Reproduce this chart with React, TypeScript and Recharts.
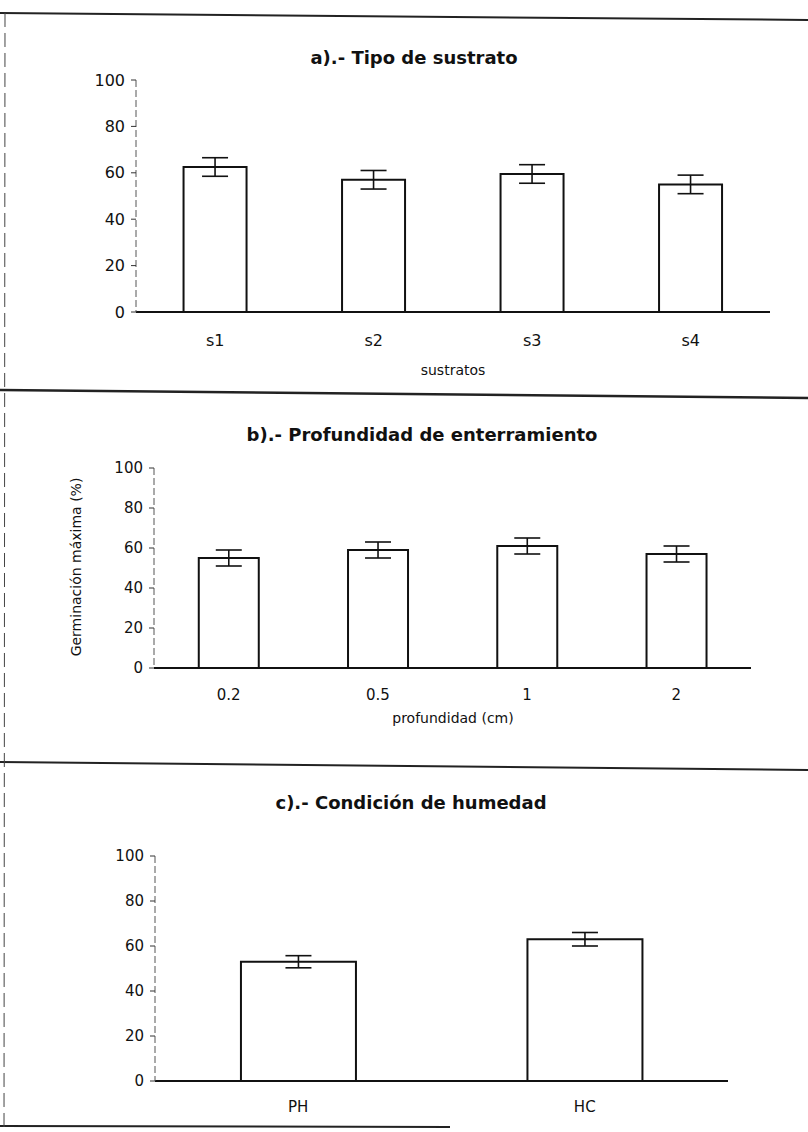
import React from 'react';
import { BarChart, Bar, XAxis, YAxis, ErrorBar } from 'recharts';

const yTicks = [0, 20, 40, 60, 80, 100];

const sustratos = ['s1', 's2', 's3', 's4'];
const germSustrato = [62.5, 57, 59.5, 55];
const errSustrato = [4, 4, 4, 4];

const profundidades = ['0.2', '0.5', '1', '2'];
const germProfundidad = [55, 59, 61, 57];
const errProfundidad = [4, 4, 4, 4];

const humedad = ['PH', 'HC'];
const germHumedad = [53, 63];
const errHumedad = [2.7, 3];

const FONT = '"DejaVu Sans", "Liberation Sans", Arial, sans-serif';
const INK = '#111';

function toRows(cats: string[], vals: number[], errs: number[]) {
  return cats.map((c, i) => ({ cat: c, value: vals[i], err: errs[i] }));
}

type PanelProps = {
  rows: { cat: string; value: number; err: number }[];
  top: number;
  height: number;
  margin: { top: number; right: number; left: number; bottom: number };
  tickFont: number;
  xTickMargin: number;
};

function Panel({ rows, top, height, margin, tickFont, xTickMargin }: PanelProps) {
  return (
    <div style={{ position: 'absolute', left: 0, top, width: 808, height }}>
      <BarChart width={808} height={height} data={rows} margin={margin} barCategoryGap="30%">
        <XAxis
          dataKey="cat"
          height={40}
          tickLine={false}
          tickSize={6}
          tickMargin={xTickMargin}
          axisLine={{ stroke: INK, strokeWidth: 1.8 }}
          tick={{ fontSize: tickFont, fill: INK, fontFamily: FONT }}
        />
        <YAxis
          width={60}
          domain={[0, 100]}
          ticks={yTicks}
          interval={0}
          tickSize={5}
          tickMargin={6}
          axisLine={{ stroke: '#555', strokeWidth: 1, strokeDasharray: '7 3' }}
          tickLine={{ stroke: '#333', strokeWidth: 1 }}
          tick={{ fontSize: tickFont, fill: INK, fontFamily: FONT }}
        />
        <Bar dataKey="value" fill="#fff" stroke={INK} strokeWidth={2} isAnimationActive={false}>
          <ErrorBar dataKey="err" width={13} stroke={INK} strokeWidth={1.6} direction="y" isAnimationActive={false} />
        </Bar>
      </BarChart>
    </div>
  );
}

function Label({ x, y, size, bold, rotate, children }: {
  x: number; y: number; size: number; bold?: boolean; rotate?: boolean; children: React.ReactNode;
}) {
  return (
    <div
      style={{
        position: 'absolute',
        left: x,
        top: y,
        transform: `translate(-50%, -50%)${rotate ? ' rotate(-90deg)' : ''}`,
        whiteSpace: 'nowrap',
        fontFamily: FONT,
        fontSize: size,
        fontWeight: bold ? 'bold' : 'normal',
        color: INK,
        lineHeight: 1,
      }}
    >
      {children}
    </div>
  );
}

export default function App() {
  return (
    <div style={{ position: 'absolute', left: 0, top: 0, width: 808, height: 1132, background: '#fff', overflow: 'hidden' }}>
      {/* panel frame lines from the scanned page */}
      <svg width={808} height={1132} style={{ position: 'absolute', left: 0, top: 0 }}>
        <line x1={0} y1={13} x2={808} y2={20} stroke="#222" strokeWidth={2} />
        <line x1={0} y1={390} x2={808} y2={398} stroke="#222" strokeWidth={2.5} />
        <line x1={0} y1={762} x2={808} y2={770} stroke="#222" strokeWidth={2} />
        <line x1={0} y1={1126} x2={450} y2={1127} stroke="#222" strokeWidth={2} />
        <line x1={5} y1={13} x2={4} y2={1132} stroke="#444" strokeWidth={1} strokeDasharray="14 6" />
      </svg>

      <Panel
        rows={toRows(sustratos, germSustrato, errSustrato)}
        top={0}
        height={392}
        margin={{ top: 80, right: 38, left: 76, bottom: 40 }}
        tickFont={16}
        xTickMargin={17}
      />
      <Panel
        rows={toRows(profundidades, germProfundidad, errProfundidad)}
        top={392}
        height={373}
        margin={{ top: 76, right: 57, left: 94, bottom: 57 }}
        tickFont={15}
        xTickMargin={15}
      />
      <Panel
        rows={toRows(humedad, germHumedad, errHumedad)}
        top={765}
        height={367}
        margin={{ top: 91, right: 80, left: 95, bottom: 11 }}
        tickFont={15}
        xTickMargin={14}
      />

      <Label x={414} y={58} size={18} bold>a).- Tipo de sustrato</Label>
      <Label x={453} y={370} size={14}>sustratos</Label>
      <Label x={422} y={435} size={18} bold>b).- Profundidad de enterramiento</Label>
      <Label x={453} y={718} size={14}>profundidad (cm)</Label>
      <Label x={76} y={567} size={14} rotate>Germinación máxima (%)</Label>
      <Label x={411} y={803} size={18} bold>c).- Condición de humedad</Label>
    </div>
  );
}
